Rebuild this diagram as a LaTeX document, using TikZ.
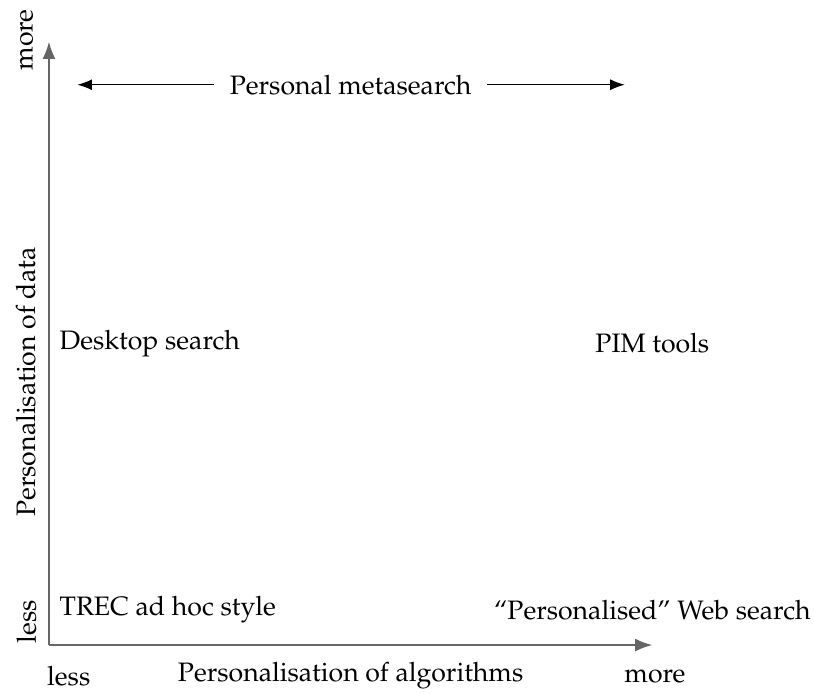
\documentclass[tikz,border=0pt]{standalone}
\usepackage[T1]{fontenc}
\usepackage{mathpazo}
\usepackage{tikz}
\usetikzlibrary{positioning,arrows.meta}

\newcommand{\labfont}{\fontsize{8.8}{10.5}\selectfont}

\begin{document}
\begin{tikzpicture}[
    >=Latex,
    axis/.style={draw=black!60, line width=0.6pt, ->},
    lbl/.style={font=\labfont},
    place/.style={font=\labfont, anchor=west}
]
% Axis lengths
\def\xmax{7}
\def\ymax{7}

\useasboundingbox (-0.568,-0.557) rectangle (8.875,7.483);

% === Axes ===
\coordinate (o) at (0,0);
\coordinate (xend) at (\xmax,0);
\coordinate (yend) at (0,\ymax);
\draw[axis] (o) -- (xend);
\draw[axis] (o) -- (yend);

% Axis labels
\node[lbl] (xless) at (0.23,-0.36) {less};
\node[lbl] (xlab) at (3.5,-0.36) {Personalisation of algorithms};
\node[lbl] (xmore) at (7.03,-0.36) {more};
\node[lbl, rotate=90] (yless) at (-0.26,0.27) {less};
\node[lbl, rotate=90] (ylab) at (-0.27,3.05) {Personalisation of data};
\node[lbl, rotate=90] (ymore) at (-0.26,7.02) {more};

% === Places in the plane ===
\node[place] (trec) at (0,0.41) {TREC ad hoc style};
\node[place] (desk) at (0,3.5) {Desktop search};
\node[lbl] (pim) at (\xmax,3.5) {PIM tools};
\node[lbl] (web) at (\xmax,0.41) {``Personalised'' Web search};

% === Metasearch span ===
\node[lbl, inner sep=5pt] (meta) at (3.5,6.5) {Personal metasearch};
\coordinate (mleft) at (0.33,6.5);
\coordinate (mright) at (6.68,6.5);
\draw[->] (meta) -- (mleft);
\draw[->] (meta) -- (mright);

\end{tikzpicture}
\end{document}
